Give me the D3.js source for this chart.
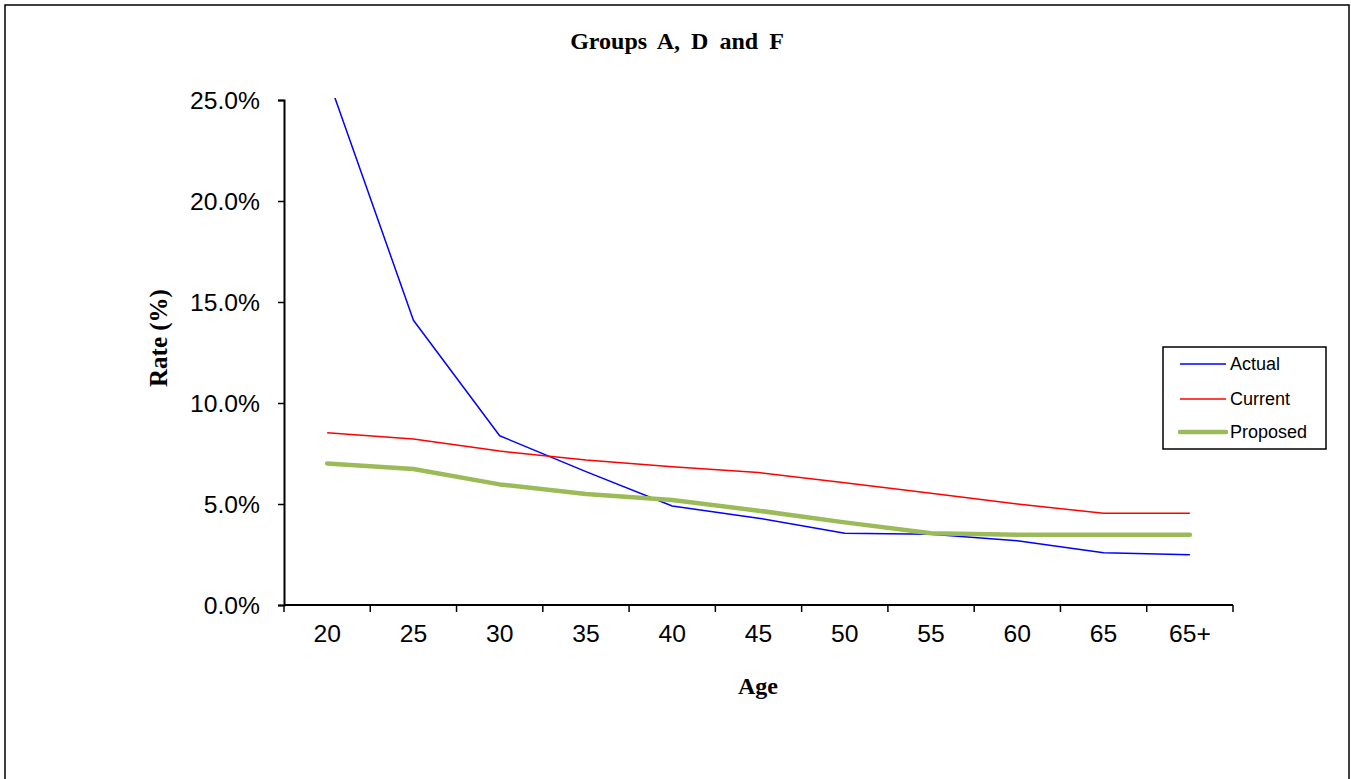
<!DOCTYPE html>
<html>
<head>
<meta charset="utf-8">
<script src="https://cdn.jsdelivr.net/npm/d3@7"></script>
<style>
  html, body { margin: 0; padding: 0; background: #fff; }
  svg { display: block; }
</style>
</head>
<body>
<svg id="chart" width="1351" height="779"></svg>
<script>
// ---- data ----
const categories = ["20", "25", "30", "35", "40", "45", "50", "55", "60", "65", "65+"];
const actual   = [0.262, 0.141, 0.0838, 0.066, 0.049, 0.043, 0.0355, 0.035, 0.0318, 0.0259, 0.0249];
const current  = [0.0853, 0.0822, 0.0762, 0.0718, 0.0685, 0.0656, 0.0605, 0.0553, 0.050, 0.0454, 0.0454];
const proposed = [0.0701, 0.0673, 0.0597, 0.055, 0.052, 0.0467, 0.0409, 0.0355, 0.0348, 0.0348, 0.0348];
const yTicks = [0, 0.05, 0.10, 0.15, 0.20, 0.25];
const seriesNames = ["Actual", "Current", "Proposed"];
const seriesColors = ["#0000FF", "#FF0000", "#9BBB59"];
const seriesWidths = [1.5, 1.5, 4.5];
const title = "Groups A, D and F";
const xTitle = "Age";
const yTitle = "Rate (%)";

// ---- layout ----
const svg = d3.select("#chart");
const pLeft = 284, pRight = 1233, pTop = 100, pBottom = 605;
const sans = "Arial, 'Liberation Sans', sans-serif";
const serif = "'Times New Roman', 'Liberation Serif', serif";

// outer border
svg.append("rect").attr("x", 5).attr("y", 5).attr("width", 1344).attr("height", 800)
  .attr("fill", "none").attr("stroke", "#000").attr("stroke-width", 1.5);

const x = d3.scaleBand().domain(categories).range([pLeft, pRight]).paddingInner(0).paddingOuter(0);
const y = d3.scaleLinear().domain([0, 0.25]).range([pBottom, pTop]);

// clip
svg.append("clipPath").attr("id", "clip").append("rect")
  .attr("x", pLeft).attr("y", pTop - 2).attr("width", pRight - pLeft).attr("height", pBottom - pTop + 2);

// y axis
const yAxis = d3.axisLeft(y).tickValues(yTicks).tickFormat(d3.format(".1%")).tickSize(6).tickPadding(18);
const gy = svg.append("g").attr("transform", `translate(${pLeft},0)`).call(yAxis);
gy.select(".domain").attr("stroke", "#000").attr("stroke-width", 2);
gy.selectAll(".tick line").attr("stroke", "#000").attr("stroke-width", 1.5);
gy.selectAll(".tick text").attr("font-family", sans)
  .attr("font-size", 23.5).attr("fill", "#000").attr("dy", "0.36em");

// x axis (labels at band centers, ticks at band edges)
const xAxis = d3.axisBottom(x).tickSize(0).tickPadding(20);
const gx = svg.append("g").attr("transform", `translate(0,${pBottom})`).call(xAxis);
gx.select(".domain").remove();
gx.selectAll(".tick text").attr("font-family", sans)
  .attr("font-size", 23.5).attr("fill", "#000").attr("dy", "0.71em");
svg.append("line").attr("x1", pLeft).attr("x2", pRight).attr("y1", pBottom).attr("y2", pBottom)
  .attr("stroke", "#000").attr("stroke-width", 2);
const edges = categories.map(c => x(c)).concat([x(categories[categories.length - 1]) + x.bandwidth()]);
svg.selectAll("line.xtick").data(edges).enter().append("line").attr("class", "xtick")
  .attr("x1", d => d).attr("x2", d => d).attr("y1", pBottom).attr("y2", pBottom + 7)
  .attr("stroke", "#000").attr("stroke-width", 1.5);

// slight horizontal stretch of tick labels, like the reference
svg.selectAll(".tick text").each(function() {
  const len = this.getComputedTextLength();
  d3.select(this).attr("textLength", len * 1.05).attr("lengthAdjust", "spacingAndGlyphs");
});

// lines
const allSeries = [actual, current, proposed];
const line = d3.line().x((d, i) => x(categories[i]) + x.bandwidth() / 2).y(d => y(d));
const gl = svg.append("g").attr("clip-path", "url(#clip)");
allSeries.forEach((s, k) => {
  gl.append("path").datum(s).attr("d", line).attr("fill", "none")
    .attr("stroke", seriesColors[k]).attr("stroke-width", seriesWidths[k])
    .attr("stroke-linejoin", "round").attr("stroke-linecap", k === 2 ? "round" : "butt");
});

// title
svg.append("text").attr("x", 677).attr("y", 49).attr("text-anchor", "middle")
  .attr("font-family", serif).attr("font-weight", "bold")
  .attr("font-size", 24).attr("word-spacing", 5).text(title);

// axis titles
svg.append("text").attr("x", 758).attr("y", 694).attr("text-anchor", "middle")
  .attr("font-family", serif).attr("font-weight", "bold")
  .attr("font-size", 24).text(xTitle);
svg.append("text").attr("transform", "translate(167,338) rotate(-90)").attr("text-anchor", "middle")
  .attr("font-family", serif).attr("font-weight", "bold")
  .attr("font-size", 25).text(yTitle);

// legend
const lg = svg.append("g");
lg.append("rect").attr("x", 1163).attr("y", 347).attr("width", 163).attr("height", 102)
  .attr("fill", "#fff").attr("stroke", "#000").attr("stroke-width", 1.5);
const legY = [364, 399, 432];
seriesNames.forEach((n, k) => {
  lg.append("line").attr("x1", 1180).attr("x2", 1226).attr("y1", legY[k]).attr("y2", legY[k])
    .attr("stroke", seriesColors[k]).attr("stroke-width", seriesWidths[k])
    .attr("stroke-linecap", k === 2 ? "round" : "butt");
  lg.append("text").attr("x", 1230).attr("y", legY[k]).attr("dy", "0.36em")
    .attr("font-family", sans).attr("font-size", 18).text(n);
});
</script>
</body>
</html>
